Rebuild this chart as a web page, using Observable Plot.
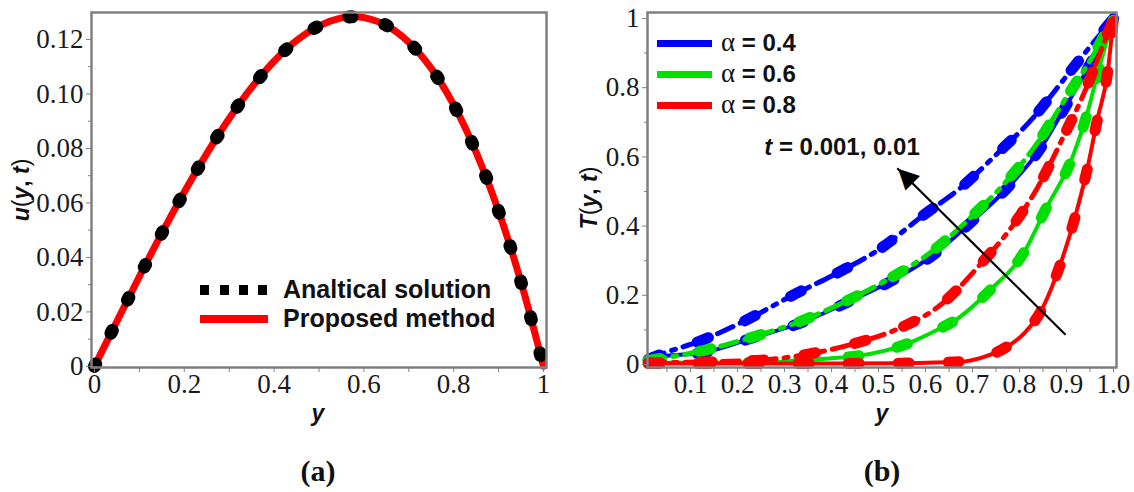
<!DOCTYPE html>
<html><head><meta charset="utf-8">
<script src="https://cdn.jsdelivr.net/npm/d3@7"></script>
<script src="https://cdn.jsdelivr.net/npm/@observablehq/plot@0.6"></script>
<style>
body{margin:0;background:#fff;}
#wrap{position:relative;width:1134px;height:492px;overflow:hidden;background:#fff;font-family:"Liberation Sans",Arial,sans-serif;}
#pa,#pb{position:absolute;top:0;}
#pa{left:0px} #pb{left:567px}
#wrap g[aria-label="x-axis tick label"], #wrap g[aria-label="y-axis tick label"]{font-size:27px;font-family:"Liberation Serif",serif;}
.t{position:absolute;white-space:nowrap;color:#111;line-height:1.1;}
.b{font-weight:bold;}
.i{font-style:italic;}
.sw{position:absolute;}
.cap{font-family:"Liberation Serif",serif;font-weight:bold;font-size:30px;}
.al{font-family:"Liberation Serif",serif;font-weight:normal;font-size:27px;}
</style></head>
<body><div id="wrap">
<div id="pa"></div><div id="pb"></div>
</div>
<script>
// ---------- panel (a) data ----------
const yA = [0,0.05,0.1,0.15,0.2,0.25,0.3,0.35,0.4,0.45,0.5,0.55,0.577,0.6,0.65,0.7,0.75,0.8,0.85,0.9,0.95,1.0];
const uA = [0,0.0166,0.033,0.0489,0.064,0.0781,0.091,0.1024,0.112,0.1196,0.125,0.1279,0.1283,0.128,0.1252,0.119,0.1094,0.096,0.0786,0.057,0.0309,0];
const xTicksA = [0,0.2,0.4,0.6,0.8,1];
const xMinorA = [0.1,0.3,0.5,0.7,0.9];
const yTicksA = [0,0.02,0.04,0.06,0.08,0.10,0.12];
const yMinorA = [0.01,0.03,0.05,0.07,0.09,0.11];
const legendA = ["Analtical solution","Proposed method"];

// ---------- panel (b) data ----------
// alpha = 0.4
const y04s = [0.01,0.02,0.136,0.234,0.334,0.434,0.532,0.617,0.696,0.774,0.845,0.887,0.945,1.0];
const T04s = [0.012,0.02,0.037,0.078,0.12,0.18,0.245,0.317,0.41,0.51,0.625,0.72,0.855,1.0];
const y04d = [0.01,0.036,0.128,0.221,0.317,0.413,0.504,0.594,0.674,0.753,0.827,0.898,0.957,1.0];
const T04d = [0.015,0.029,0.072,0.13,0.2,0.265,0.335,0.43,0.51,0.61,0.71,0.83,0.93,1.0];
// alpha = 0.6
const y06s = [0.01,0.2,0.3,0.4,0.455,0.561,0.632,0.66,0.738,0.81,0.855,0.913,0.945,0.968,1.0];
const T06s = [0.005,0.006,0.009,0.018,0.025,0.06,0.105,0.125,0.216,0.325,0.447,0.6,0.73,0.85,1.0];
const y06d = [0.01,0.136,0.234,0.334,0.434,0.532,0.617,0.70,0.766,0.838,0.894,0.951,1.0];
const T06d = [0.012,0.043,0.08,0.125,0.185,0.255,0.33,0.43,0.52,0.64,0.76,0.88,1.0];
// alpha = 0.8
const y08s = [0.01,0.2,0.4,0.55,0.674,0.72,0.774,0.81,0.845,0.887,0.919,0.945,0.966,0.987,1.0];
const T08s = [0.003,0.003,0.003,0.004,0.008,0.02,0.052,0.09,0.153,0.29,0.43,0.57,0.71,0.84,1.0];
const y08d = [0.01,0.24,0.35,0.447,0.553,0.625,0.647,0.717,0.785,0.838,0.894,0.936,0.977,1.0];
const T08d = [0.005,0.012,0.03,0.06,0.11,0.165,0.19,0.29,0.40,0.51,0.66,0.78,0.92,1.0];

const alphas = ["0.4","0.6","0.8"];
const colors = ["#0000ff","#00e000","#ff0000"];
const xTicksB = [0.1,0.2,0.3,0.4,0.5,0.6,0.7,0.8,0.9,1.0];
const xMinorB = [0.05,0.15,0.25,0.35,0.45,0.55,0.65,0.75,0.85,0.95];
const yTicksB = [0,0.2,0.4,0.6,0.8,1];
const yMinorB = [0.1,0.3,0.5,0.7,0.9];
const annotText = "t = 0.001, 0.01";
const arrowTail = [0.898, 0.086];
const arrowTip = [0.54, 0.567];
const arrowHead = [0.555, 0.548];

// ---------- helpers ----------
const zip = (xs, ys, extra) => xs.map((x,i) => ({x, v: ys[i], ...extra}));
const frameColor = "#808080";
const tickText = "#1a1a1a";
const styleBase = {fontFamily:"'Liberation Serif', serif", fontSize:"27px", background:"#fff", overflow:"visible"};

// ---------- panel (a) ----------
const dataA = zip(yA, uA);
const plotA = Plot.plot({
  width: 567, height: 420,
  marginLeft: 91, marginRight: 21, marginTop: 12, marginBottom: 53,
  style: styleBase,
  x: {domain: [-0.0067, 1.0067], label: null},
  y: {domain: [-0.0004, 0.1299], label: null},
  marks: [
    Plot.line(dataA, {x:"x", y:"v", stroke:"#ff0000", strokeWidth:7, curve:"catmull-rom"}),
    Plot.line(dataA, {x:"x", y:"v", stroke:"#000", strokeWidth:13, strokeDasharray:"3,34", strokeLinecap:"round", curve:"catmull-rom"}),
    Plot.axisX(xTicksA, {tickFormat: d => d===0||d===1 ? String(d) : d.toFixed(1), tickSize:5, tickPadding:1, stroke:frameColor, fill:tickText}),
    Plot.axisX(xMinorA, {tickFormat: () => "", tickSize:5, stroke:frameColor}),
    Plot.axisY(yTicksA, {tickFormat: d => d===0 ? "0" : d.toFixed(2), tickSize:5, tickPadding:3, stroke:frameColor, fill:tickText}),
    Plot.axisY(yMinorA, {tickFormat: () => "", tickSize:3, stroke:frameColor}),
    Plot.frame({stroke: frameColor, strokeWidth: 2.5})
  ]
});
document.getElementById("pa").appendChild(plotA);

// ---------- panel (b) ----------
const series = [
  {d: zip(y04d, T04d), c: colors[0], dd: true},
  {d: zip(y04s, T04s), c: colors[0], dd: false},
  {d: zip(y06d, T06d), c: colors[1], dd: true},
  {d: zip(y06s, T06s), c: colors[1], dd: false},
  {d: zip(y08d, T08d), c: colors[2], dd: true},
  {d: zip(y08s, T08s), c: colors[2], dd: false}
];
const curveMarks = [];
for (const s of series) {
  curveMarks.push(Plot.line(s.d, {x:"x", y:"v", stroke:s.c, strokeWidth: s.dd ? 5 : 4, strokeDasharray: s.dd ? "17,8,4,8" : null, curve:"monotone-x"}));
  curveMarks.push(Plot.line(s.d, {x:"x", y:"v", stroke:s.c, strokeWidth: 11, strokeDasharray: s.dd ? "12,40" : "11,39", curve:"monotone-x"}));
}
const plotB = Plot.plot({
  width: 567, height: 420,
  marginLeft: 80, marginRight: 18, marginTop: 12, marginBottom: 53,
  style: styleBase,
  x: {domain: [0.0085, 1.0064], label: null},
  y: {domain: [-0.0086, 1.0173], label: null},
  marks: [
    ...curveMarks,
    Plot.link([0], {x1: () => arrowTail[0], y1: () => arrowTail[1], x2: () => arrowTip[0], y2: () => arrowTip[1], stroke:"#000", strokeWidth:2.2}),
    Plot.text([0], {x: () => arrowHead[0], y: () => arrowHead[1], text: () => "\u25B2", rotate: -45, fontSize: 27, fill:"#000", fontFamily:"DejaVu Sans", lineAnchor:"middle", textAnchor:"middle"}),
    Plot.axisX(xTicksB, {tickFormat: d => d.toFixed(1), tickSize:5, tickPadding:1, stroke:frameColor, fill:tickText}),
    Plot.axisX(xMinorB, {tickFormat: () => "", tickSize:5, stroke:frameColor}),
    Plot.axisY(yTicksB, {tickFormat: d => d===0||d===1 ? String(d) : d.toFixed(1), tickSize:5, tickPadding:3, stroke:frameColor, fill:tickText}),
    Plot.axisY(yMinorB, {tickFormat: () => "", tickSize:3, stroke:frameColor}),
    Plot.frame({stroke: frameColor, strokeWidth: 2.5})
  ]
});
document.getElementById("pb").appendChild(plotB);

// ---------- text / legends ----------
const wrap = document.getElementById("wrap");
function add(html, css, cls) {
  const d = document.createElement("div");
  d.className = "t " + (cls || "");
  d.innerHTML = html;
  Object.assign(d.style, css);
  wrap.appendChild(d);
  return d;
}
// axis labels
add('<span class="b i">u</span>(<span class="b i">y</span><span class="b">, </span><span class="b i">t</span>)',
    {left:"22px", top:"190px", fontSize:"23px", transform:"translate(-50%,-50%) rotate(-90deg)"});
add('<span class="b i">T</span>(<span class="b i">y</span><span class="b">, </span><span class="b i">t</span>)',
    {left:"590px", top:"198px", fontSize:"23px", transform:"translate(-50%,-50%) rotate(-90deg)"});
add('<span class="b i">y</span>', {left:"318px", top:"414px", fontSize:"23px", transform:"translate(-50%,-50%)"});
add('<span class="b i">y</span>', {left:"882px", top:"414px", fontSize:"23px", transform:"translate(-50%,-50%)"});
// captions
add('(a)', {left:"318px", top:"470px", transform:"translate(-50%,-50%)"}, "cap");
add('(b)', {left:"882px", top:"470px", transform:"translate(-50%,-50%)"}, "cap");
// legend (a)
function swatch(css){ const d=document.createElement("div"); d.className="sw"; Object.assign(d.style, css); wrap.appendChild(d); }
swatch({left:"200px", top:"285px", width:"68px", height:"10px",
  background:"repeating-linear-gradient(to right,#000 0 9px,transparent 9px 19.5px)"});
swatch({left:"200px", top:"315px", width:"68px", height:"8px", background:"#ff0000"});
add(legendA[0], {left:"283px", top:"290px", fontSize:"25px", transform:"translateY(-50%)"}, "b");
add(legendA[1], {left:"283px", top:"319px", fontSize:"25px", transform:"translateY(-50%)"}, "b");
// legend (b)
const rowsB = [43, 74, 105];
alphas.forEach((a, i) => {
  swatch({left:"657px", top:(rowsB[i]-3)+"px", width:"55px", height:"7px", background: colors[i]});
  add('<span class="al">\u03b1</span> = ' + a, {left:"721px", top: rowsB[i]+"px", fontSize:"24px", transform:"translateY(-50%)"}, "b");
});
// annotation
add('<span class="i">t</span>' + annotText.slice(1), {left:"842px", top:"147px", fontSize:"24px", transform:"translate(-50%,-50%)"}, "b");
</script>
</body></html>
